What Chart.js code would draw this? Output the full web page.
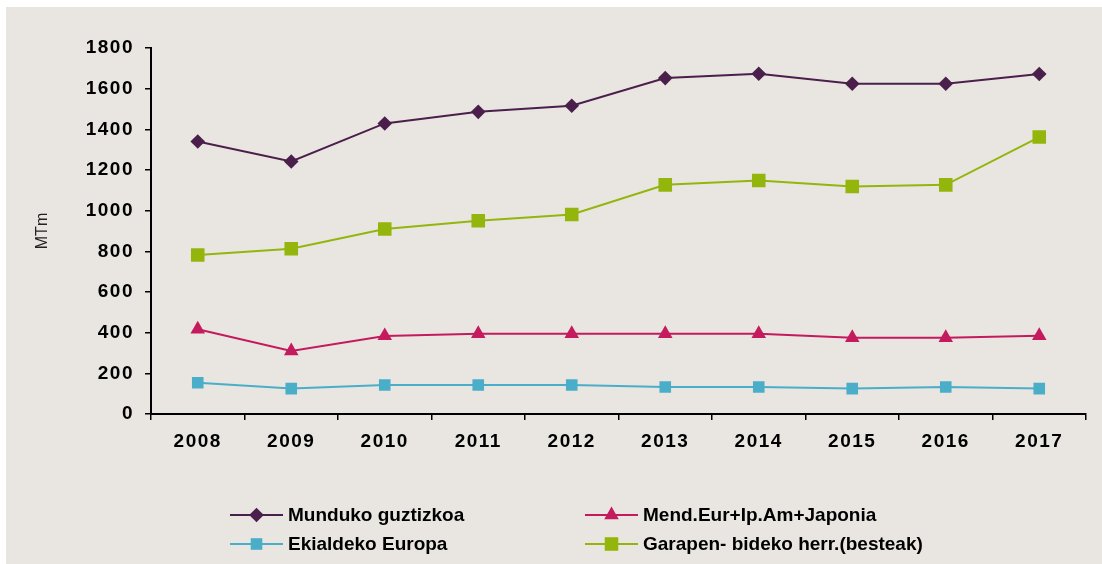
<!DOCTYPE html>
<html>
<head>
<meta charset="utf-8">
<script src="https://cdn.jsdelivr.net/npm/chart.js@4/dist/chart.umd.min.js"></script>
<style>
html,body{margin:0;padding:0;background:#fff;width:1102px;height:564px;overflow:hidden;}
#bg{position:absolute;left:6px;top:7px;width:1096px;height:557px;background:#e9e6e2;}
#wrap{position:absolute;left:0;top:0;width:1102px;height:564px;}
#legend{position:absolute;left:0;top:0;width:1102px;height:564px;font-family:"Liberation Sans",Arial,sans-serif;font-weight:bold;font-size:19px;color:#000;}
.item{position:absolute;height:24px;display:flex;align-items:center;white-space:nowrap;}
.item canvas{display:block;margin-right:5px;}
</style>
</head>
<body>
<div id="bg"></div>
<div id="wrap"><canvas id="c" width="1102" height="564"></canvas></div>
<div id="legend"></div>
<script>
// ---- data ----
const years = ['2008','2009','2010','2011','2012','2013','2014','2015','2016','2017'];
const seriesNames = ['Munduko guztizkoa','Mend.Eur+Ip.Am+Japonia','Ekialdeko Europa','Garapen- bideko herr.(besteak)'];
const munduko   = [1340,1242,1429,1486,1516,1652,1673,1624,1624,1672];
const mend      = [417,310,384,395,395,395,395,375,375,385];
const ekialdeko = [154,125,143,143,143,133,133,125,133,125];
const garapen   = [782,813,910,950,981,1127,1148,1119,1127,1362];
const yTicks    = [0,200,400,600,800,1000,1200,1400,1600,1800];
const yTitle    = 'MTm';

const FONT = '"Liberation Sans", Arial, sans-serif';
const styles = [
  {color:'#4b1f4b', pointStyle:'rectRot', radius:7.3},
  {color:'#c41a5e', pointStyle:'triangle', radius:8.4},
  {color:'#4aaec8', pointStyle:'rect', radius:8.2},
  {color:'#94b50c', pointStyle:'rect', radius:9.6}
];
const values = [munduko, mend, ekialdeko, garapen];

const datasets = values.map((v,i)=>({
  label: seriesNames[i],
  data: v,
  borderColor: styles[i].color,
  backgroundColor: styles[i].color,
  pointBackgroundColor: styles[i].color,
  pointBorderColor: styles[i].color,
  pointBorderWidth: 0,
  pointStyle: styles[i].pointStyle,
  pointRadius: styles[i].radius,
  borderWidth: 2,
  tension: 0,
  fill: false
}));

// wider digit spacing for tick labels, y title drawn without spacing
const spacing = {
  id: 'spacing',
  beforeDraw(chart){ chart.ctx.letterSpacing = '1.5px'; },
  afterDraw(chart){
    const ctx = chart.ctx;
    ctx.letterSpacing = '0px';
    const y = chart.scales.y;
    ctx.save();
    ctx.translate(43, (y.top + y.bottom) / 2);
    ctx.rotate(-Math.PI / 2);
    ctx.font = '16px ' + FONT;
    ctx.fillStyle = '#222';
    ctx.textAlign = 'center';
    ctx.textBaseline = 'middle';
    ctx.fillText(yTitle, 0, 0);
    ctx.restore();
  }
};

new Chart(document.getElementById('c'), {
  type: 'line',
  data: { labels: years, datasets: datasets },
  plugins: [spacing],
  options: {
    responsive: false,
    animation: false,
    devicePixelRatio: 1,
    layout: { padding: { left: 31, top: 48, right: 16, bottom: 100 } },
    plugins: { legend: { display: false }, tooltip: { enabled: false } },
    scales: {
      x: {
        type: 'category',
        offset: true,
        grid: { offset: true, drawOnChartArea: false, drawTicks: true, tickLength: 6, color: '#000', lineWidth: 1.5 },
        border: { display: true, color: '#000', width: 2 },
        ticks: { color: '#000', padding: 10, font: { family: FONT, size: 19, weight: 'bold' }, maxRotation: 0 },
        afterFit: s => { s.height = 50; }
      },
      y: {
        min: 0, max: 1800,
        afterBuildTicks: s => { s.ticks = yTicks.map(v=>({value:v})); },
        grid: { drawOnChartArea: false, drawTicks: true, tickLength: 6, color: '#000', lineWidth: 1.5 },
        border: { display: true, color: '#000', width: 2 },
        ticks: { color: '#000', padding: 11, font: { family: FONT, size: 19, weight: 'bold' }, callback: v => String(v) },
        title: { display: false },
        afterFit: s => { s.width = 120; }
      }
    }
  }
});

// ---- legend (HTML, two columns) ----
const legendPos = [
  {x:230, y:515}, {x:585, y:515},
  {x:230, y:544}, {x:585, y:544}
];
const leg = document.getElementById('legend');
seriesNames.forEach((name,i)=>{
  const d = document.createElement('div');
  d.className = 'item';
  d.style.left = legendPos[i].x + 'px';
  d.style.top = (legendPos[i].y - 12) + 'px';
  const cv = document.createElement('canvas');
  cv.width = 53; cv.height = 24;
  const ctx = cv.getContext('2d');
  ctx.strokeStyle = styles[i].color; ctx.lineWidth = 2;
  ctx.beginPath(); ctx.moveTo(0,12); ctx.lineTo(53,12); ctx.stroke();
  ctx.fillStyle = styles[i].color; ctx.strokeStyle = styles[i].color;
  Chart.helpers.drawPoint(ctx, {pointStyle: styles[i].pointStyle, radius: styles[i].radius, rotation: 0, borderWidth: 0}, 26.5, 12);
  const t = document.createElement('span');
  t.textContent = name;
  d.appendChild(cv); d.appendChild(t);
  leg.appendChild(d);
});
</script>
</body>
</html>
